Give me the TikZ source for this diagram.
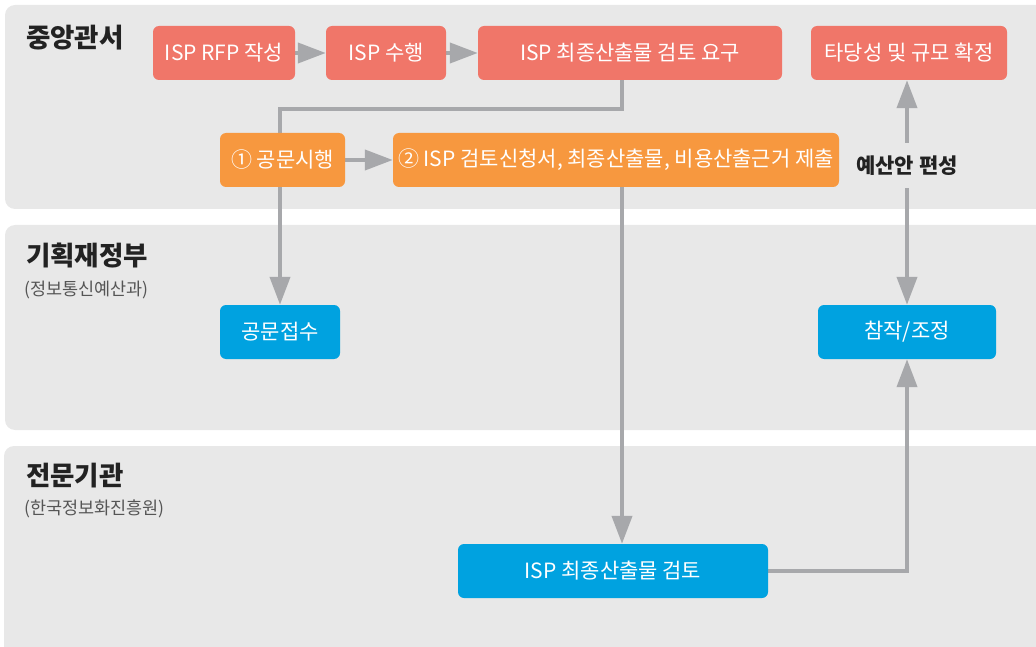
\documentclass[tikz,border=0pt]{standalone}
\usepackage{fontspec}
\setmainfont{Noto Sans CJK KR}
\usetikzlibrary{arrows.meta}
\definecolor{lanegray}{HTML}{E8E8E8}
\definecolor{salmon}{HTML}{F07669}
\definecolor{orangebox}{HTML}{F7983F}
\definecolor{bluebox}{HTML}{00A2E0}
\definecolor{arrowgray}{HTML}{A7A8AB}
\definecolor{titletext}{HTML}{222222}
\definecolor{subtext}{HTML}{555555}
\pgfdeclarelayer{lanes}
\pgfdeclarelayer{links}
\pgfsetlayers{lanes,links,main}
\begin{document}
\begin{tikzpicture}[x=1pt,y=-1pt,
  lane/.style={fill=lanegray, rounded corners=10pt},
  box/.style={text=white, rounded corners=6pt, minimum height=54pt, inner sep=0pt, font=\fontsize{21}{24}\selectfont},
  redbox/.style={box, fill=salmon},
  orbox/.style={box, fill=orangebox},
  bluebox/.style={box, fill=bluebox},
  lanetitle/.style={anchor=north west, inner sep=0pt, text=titletext, font=\fontsize{26.5}{30}\selectfont\bfseries},
  lanesub/.style={anchor=north west, inner sep=0pt, text=subtext, font=\fontsize{17.5}{20}\selectfont},
  conn/.style={draw=arrowgray, line width=4pt, -{Triangle[length=28pt,width=20pt]}},
  plain/.style={draw=arrowgray, line width=4pt}
]
\useasboundingbox (0,0) rectangle (1036,647);
\begin{pgfonlayer}{lanes}
  \fill[lane] (5,5) rectangle (1046,209);
  \fill[lane] (5,225) rectangle (1046,430);
  \fill[lane] (4,446) rectangle (1046,660);
\end{pgfonlayer}
% lane titles
\node[lanetitle] (t1) at (26,25) {중앙관서};
\node[lanetitle] (t2) at (26,243) {기획재정부};
\node[lanesub] (s2) at (24,281) {(정보통신예산과)};
\node[lanetitle] (t3) at (26,463) {전문기관};
\node[lanesub] (s3) at (24,500) {(한국정보화진흥원)};
% boxes
\node[redbox, minimum width=142pt] (rfp) at (224,53) {ISP RFP 작성};
\node[redbox, minimum width=120pt] (su) at (386,53) {ISP 수행};
\node[redbox, minimum width=304pt] (req) at (630,53) {ISP 최종산출물 검토 요구};
\node[redbox, minimum width=196pt] (conf) at (909,53) {타당성 및 규모 확정};
\node[orbox, minimum width=125pt] (gong) at (282.5,160) {① 공문시행};
\node[orbox, minimum width=446pt] (sub) at (616,160) {② ISP 검토신청서, 최종산출물, 비용산출근거 제출};
\node[inner sep=0pt, minimum height=45pt, text=titletext, font=\fontsize{21}{24}\selectfont\bfseries] (budget) at (907,165.5) {예산안 편성};
\node[bluebox, minimum width=120pt] (recv) at (280,332) {공문접수};
\node[bluebox, minimum width=178pt] (adj) at (907,332) {참작/조정};
\node[bluebox, minimum width=310pt] (rev) at (613,571) {ISP 최종산출물 검토};
% connectors
\begin{pgfonlayer}{links}
  \draw[conn] (rfp) -- (su);
  \draw[conn] (su) -- (req);
  \draw[conn] ([xshift=-8pt]req.south) -- ++(0,29) -| (recv.north);
  \draw[conn] (gong) -- (sub);
  \draw[conn] ([xshift=6pt]sub.south) -- ([xshift=6pt]sub.south |- rev.north);
  \draw[conn] (rev.east) -| (adj.south);
  \draw[conn] (budget.north) -- (budget.north |- conf.south);
  \draw[conn] (budget.south) -- (adj.north);
\end{pgfonlayer}
\end{tikzpicture}
\end{document}
